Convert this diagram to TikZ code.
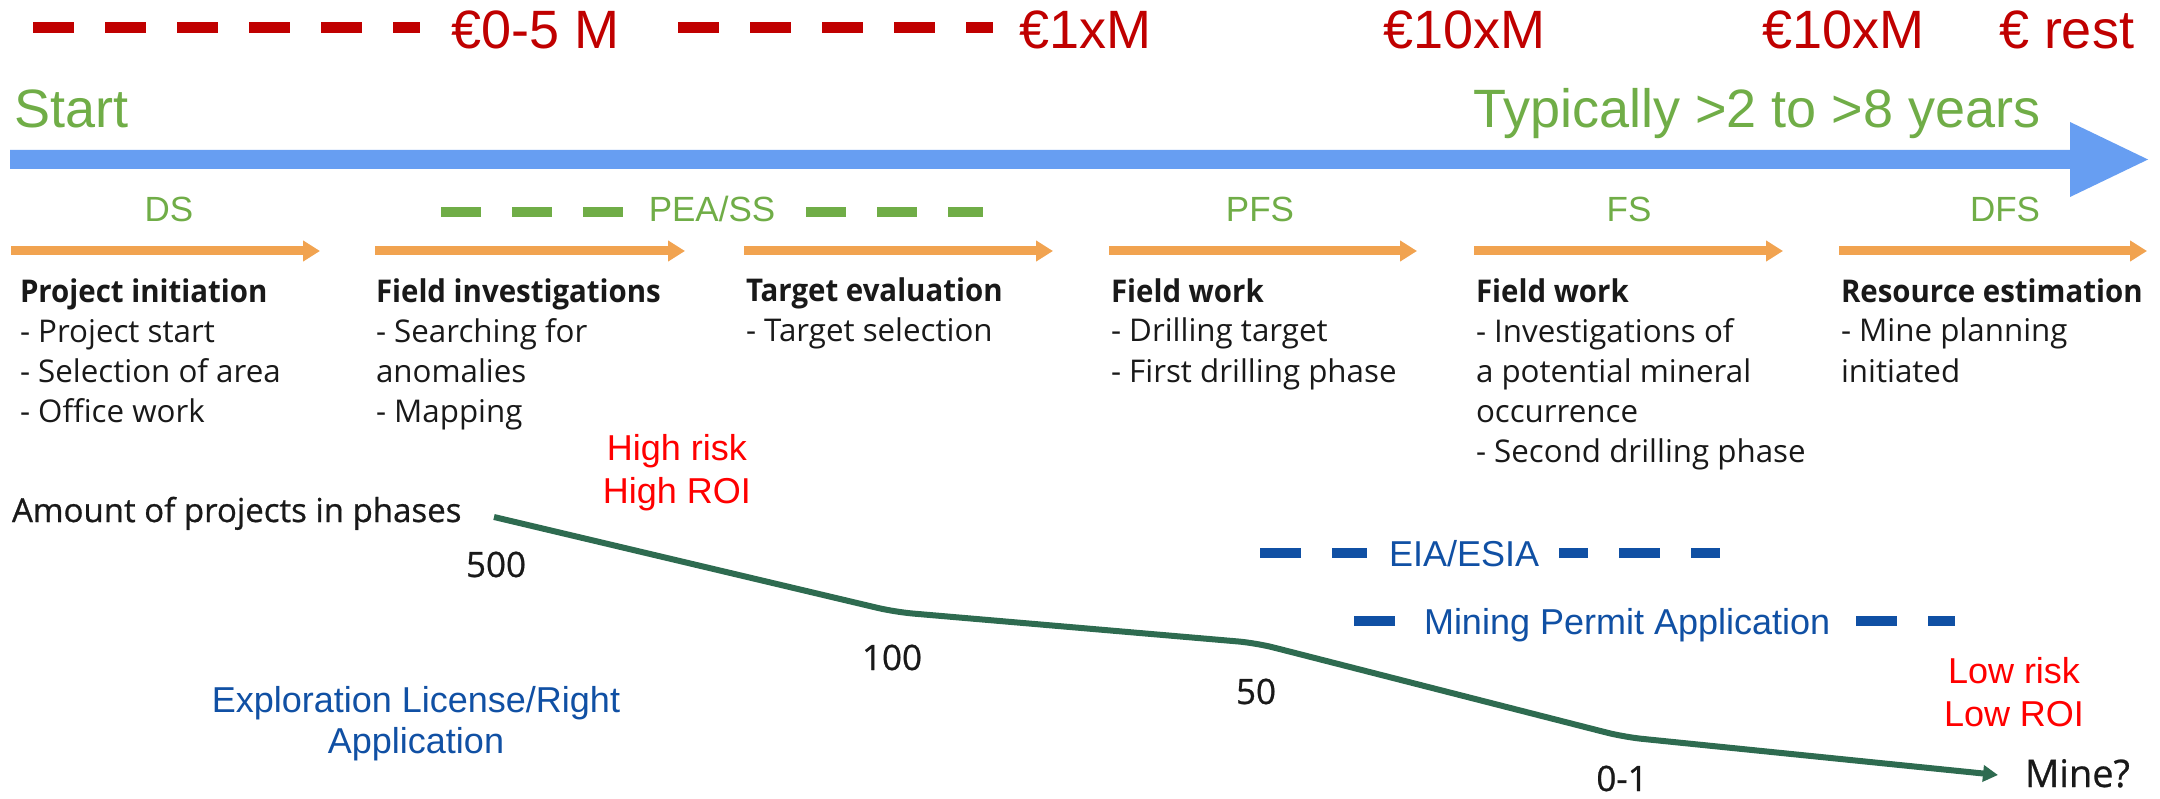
\documentclass[tikz,border=0pt]{standalone}
\usepackage{fontspec}
\setmainfont{Liberation Sans}
\newfontfamily\bodyfont[BoldFeatures={FakeStretch=0.94}]{Open Sans}
\newfontfamily\countfont[FakeBold=0.7]{Open Sans}
\usetikzlibrary{arrows.meta}

\definecolor{costred}{RGB}{192,0,0}
\definecolor{timegreen}{RGB}{112,173,71}
\definecolor{timeblue}{RGB}{103,158,242}
\definecolor{stageorange}{RGB}{241,163,80}
\definecolor{riskred}{RGB}{255,0,0}
\definecolor{permitblue}{RGB}{16,80,164}
\definecolor{curvegreen}{RGB}{46,107,80}
\definecolor{bodyblack}{RGB}{25,25,25}

\begin{document}
\begin{tikzpicture}[x=1pt,y=-1pt,
  every node/.style={inner sep=0pt, outer sep=0pt},
  cost/.style={text=costred, font=\fontsize{54}{60}\selectfont, anchor=base west},
  timetext/.style={text=timegreen, font=\fontsize{54}{60}\selectfont, anchor=base west},
  phase/.style={text=timegreen, font=\fontsize{35}{42}\selectfont, anchor=base},
  costdash/.style={draw=costred, line width=11pt, dash pattern=on 41pt off 31pt},
  phasedash/.style={draw=timegreen, line width=10pt, dash pattern=on 40pt off 31pt},
  permitdash/.style={draw=permitblue, line width=10pt, dash pattern=on 41pt off 31pt},
  stage/.style={draw=stageorange, line width=9pt, -{Triangle[length=17pt,width=20pt]}},
  desc/.style={font=\bodyfont\fontsize{31.3}{40}\selectfont, text=bodyblack, align=left, anchor=north west},
  risk/.style={text=riskred, font=\fontsize{36}{43}\selectfont, align=center, anchor=north},
  permit/.style={text=permitblue, font=\fontsize{36}{41}\selectfont},
  count/.style={font=\countfont\fontsize{35}{40}\selectfont, text=bodyblack, anchor=base},
  curve/.style={draw=curvegreen, line width=6pt, rounded corners=18pt,
                -{Triangle[length=15pt,width=16pt]}}
]
\useasboundingbox (0,0) rectangle (2160,799);
\fill[white] (0,0) rectangle (2160,799);

% cost figures along the top
\node[cost] (c05)   at (451,49)  {€0-5 M};
\node[cost] (c1x)   at (1019,49) {€1xM};
\node[cost] (c10a)  at (1383,49) {€10xM};
\node[cost] (c10b)  at (1762,49) {€10xM};
\node[cost] (crest) at (1999,49) {€ rest};
\coordinate (rd1) at (33,28);
\coordinate (rd2) at (678,28);
\draw[costdash] (rd1) -- ++(387,0);
\draw[costdash] (rd2) -- ++(315,0);

% time axis
\node[timetext] (start) at (14,128)   {Start};
\node[timetext] (years) at (1473,128) {Typically >2 to >8 years};
\fill[timeblue] (10,150) -- (2070,150) -- (2070,122) -- (2148,159.5)
  -- (2070,197) -- (2070,169) -- (10,169) -- cycle;

% study phases
\node[phase] (ds)  at (169,222)  {DS};
\node[phase] (pea) at (712,222)  {PEA/SS};
\node[phase] (pfs) at (1260,222) {PFS};
\node[phase] (fs)  at (1629,222) {FS};
\node[phase] (dfs) at (2005,222) {DFS};
\coordinate (gd1) at (441,212);
\coordinate (gd2) at (806,212);
\draw[phasedash] (gd1) -- ++(182,0);
\draw[phasedash] (gd2) -- ++(177,0);

% stage arrows
\foreach \a/\b [count=\i] in {11/320, 375/685, 744/1053, 1109/1417, 1474/1783, 1839/2147}{
  \coordinate (s\i a) at (\a,251);
  \coordinate (s\i b) at (\b,251);
  \draw[stage] (s\i a) -- (s\i b);
}

% stage descriptions
\node[desc] (d1) at (20,274)   {\strut\textbf{Project initiation}\\- Project start\\- Selection of area\\- Office work};
\node[desc] (d2) at (376,274)  {\strut\textbf{Field investigations}\\- Searching for\\anomalies\\- Mapping};
\node[desc] (d3) at (746,274)  {\strut\textbf{Target evaluation}\\- Target selection};
\node[desc] (d4) at (1111,274) {\strut\textbf{Field work}\\- Drilling target\\- First drilling phase};
\node[desc] (d5) at (1476,274) {\strut\textbf{Field work}\\- Investigations of\\a potential mineral\\occurrence\\- Second drilling phase};
\node[desc] (d6) at (1841,274) {\strut\textbf{Resource estimation}\\- Mine planning\\initiated};

% risk notes
\node[risk] (hirisk) at (677,430)  {\strut High risk\\High ROI};
\node[risk] (lorisk) at (2014,653) {\strut Low risk\\Low ROI};

% permits
\node[permit, align=center, anchor=north] (expl) at (416,684) {\strut Exploration License/Right\\Application};
\node[permit, anchor=base west] (eia)  at (1389,566) {EIA/ESIA};
\node[permit, anchor=base west] (mpa)  at (1424,634) {Mining Permit Application};
\coordinate (bd1) at (1260,553);
\coordinate (bd2) at (1559,553);
\coordinate (bd3) at (1354,621);
\coordinate (bd4) at (1856,621);
\draw[permitdash] (bd1) -- ++(107,0);
\draw[permitdash, dash phase=12pt] (bd2) -- ++(161,0);
\draw[permitdash] (bd3) -- ++(41,0);
\draw[permitdash] (bd4) -- ++(99,0);

% number of projects per phase
\node[font=\countfont\fontsize{33}{40}\selectfont, text=bodyblack, anchor=base west] (amount) at (12,522) {Amount of projects in phases};
\node[count] (n500) at (496,577)  {500};
\node[count] (n100) at (892,670)  {100};
\node[count] (n50)  at (1256,704) {50};
\node[count] (n01)  at (1622,791) {0-1};
\node[count, font=\countfont\fontsize{38}{40}\selectfont, anchor=base west] (mine) at (2025,787) {Mine?};
\coordinate (p0) at (494,517);
\coordinate (p1) at (895,612);
\coordinate (p2) at (1256,643);
\coordinate (p3) at (1624,737);
\coordinate (p4) at (1998,775);
\draw[curve] (p0) -- (p1) -- (p2) -- (p3) -- (p4);
\end{tikzpicture}
\end{document}
